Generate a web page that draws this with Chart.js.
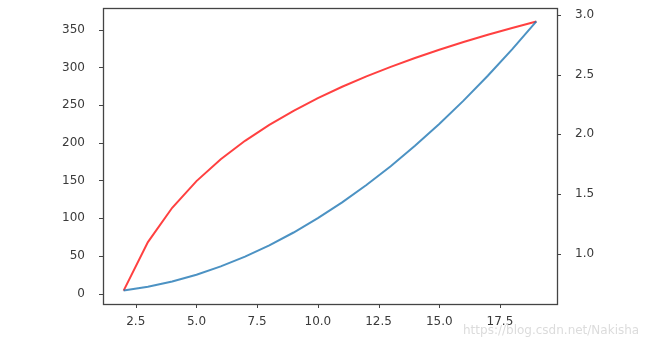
<!DOCTYPE html>
<html>
<head>
<meta charset="utf-8">
<script src="https://cdn.jsdelivr.net/npm/chart.js@4/dist/chart.umd.min.js"></script>
<style>
html,body{margin:0;padding:0;background:#fff;}
#wrap{width:650px;height:346px;position:relative;}
</style>
</head>
<body>
<div id="wrap"><canvas id="c" width="650" height="346"></canvas></div>
<script>
const xValues = [2,3,4,5,6,7,8,9,10,11,12,13,14,15,16,17,18,19];
const squareValues = [4,9,16,25,36,49,64,81,100,121,144,169,196,225,256,289,324,361];
const logValues = [0.693,1.099,1.386,1.609,1.792,1.946,2.079,2.197,2.303,2.398,2.485,2.565,2.639,2.708,2.773,2.833,2.890,2.944];
const xTicks = [2.5,5.0,7.5,10.0,12.5,15.0,17.5];
const leftTicks = [0,50,100,150,200,250,300,350];
const rightTicks = [1.0,1.5,2.0,2.5,3.0];
const watermark = "https://blog.csdn.net/Nakisha";

const toPts = (ys) => xValues.map((x,i)=>({x:x,y:ys[i]}));
const tickColor = '#3a3a3a';
const font = {family:'"DejaVu Sans", sans-serif', size:12};
const noPad = (s) => { s.paddingTop = 0; s.paddingBottom = 0; s.paddingLeft = 0; s.paddingRight = 0; };

const framePlugin = {
  id:'frame',
  afterDraw(chart){
    const {ctx, chartArea:a} = chart;
    ctx.save();
    ctx.strokeStyle = '#444';
    ctx.lineWidth = 1.3;
    ctx.strokeRect(Math.round(a.left)+0.5, Math.round(a.top)+0.5, Math.round(a.right-a.left), Math.round(a.bottom-a.top));
    ctx.font = '12px "DejaVu Sans", sans-serif';
    ctx.fillStyle = '#dcdcdc';
    ctx.textBaseline = 'middle';
    ctx.fillText(watermark, 463, 331);
    ctx.restore();
  }
};

new Chart(document.getElementById('c'), {
  type:'line',
  data:{datasets:[
    {label:'x^2', data:toPts(squareValues), yAxisID:'y', borderColor:'rgba(31,119,180,0.8)', borderWidth:2, pointRadius:0, tension:0, fill:false},
    {label:'log', data:toPts(logValues), yAxisID:'y1', borderColor:'rgba(255,0,0,0.75)', borderWidth:2, pointRadius:0, tension:0, fill:false}
  ]},
  options:{
    responsive:false, animation:false,
    layout:{padding:{top:8,left:0,right:0,bottom:0}},
    plugins:{legend:{display:false}, tooltip:{enabled:false}},
    scales:{
      x:{type:'linear', min:1.15, max:19.85,
        grid:{display:false},
        border:{display:false},
        afterBuildTicks(s){ s.ticks = xTicks.map(v=>({value:v})); },
        afterFit(s){ s.height = 42; noPad(s); },
        ticks:{color:tickColor, font:font, padding:3, maxRotation:0, autoSkip:false, callback:v=>Number(v).toFixed(1)}
      },
      y:{type:'linear', position:'left', min:-13.85, max:378.85,
        grid:{display:false},
        border:{display:false},
        afterBuildTicks(s){ s.ticks = leftTicks.map(v=>({value:v})); },
        afterFit(s){ s.width = 103; noPad(s); },
        ticks:{color:tickColor, font:font, padding:10, autoSkip:false, callback:v=>String(v)}
      },
      y1:{type:'linear', position:'right', min:0.581, max:3.057,
        grid:{display:false},
        border:{display:false},
        afterBuildTicks(s){ s.ticks = rightTicks.map(v=>({value:v})); },
        afterFit(s){ s.width = 93; noPad(s); },
        ticks:{color:tickColor, font:font, padding:10, autoSkip:false, callback:v=>Number(v).toFixed(1)}
      }
    }
  },
  plugins:[framePlugin, {
    id:'tickmarks',
    afterDraw(chart){
      const {ctx, chartArea:a, scales} = chart;
      ctx.save(); ctx.strokeStyle='#444'; ctx.lineWidth=1;
      ctx.beginPath();
      xTicks.forEach(v=>{const p=Math.round(scales.x.getPixelForValue(v))+0.5; ctx.moveTo(p,a.bottom); ctx.lineTo(p,a.bottom+4);});
      leftTicks.forEach(v=>{const p=Math.round(scales.y.getPixelForValue(v))+0.5; ctx.moveTo(a.left,p); ctx.lineTo(a.left-4,p);});
      rightTicks.forEach(v=>{const p=Math.round(scales.y1.getPixelForValue(v))+0.5; ctx.moveTo(a.right,p); ctx.lineTo(a.right+4,p);});
      ctx.stroke(); ctx.restore();
    }
  }]
});
</script>
</body>
</html>
